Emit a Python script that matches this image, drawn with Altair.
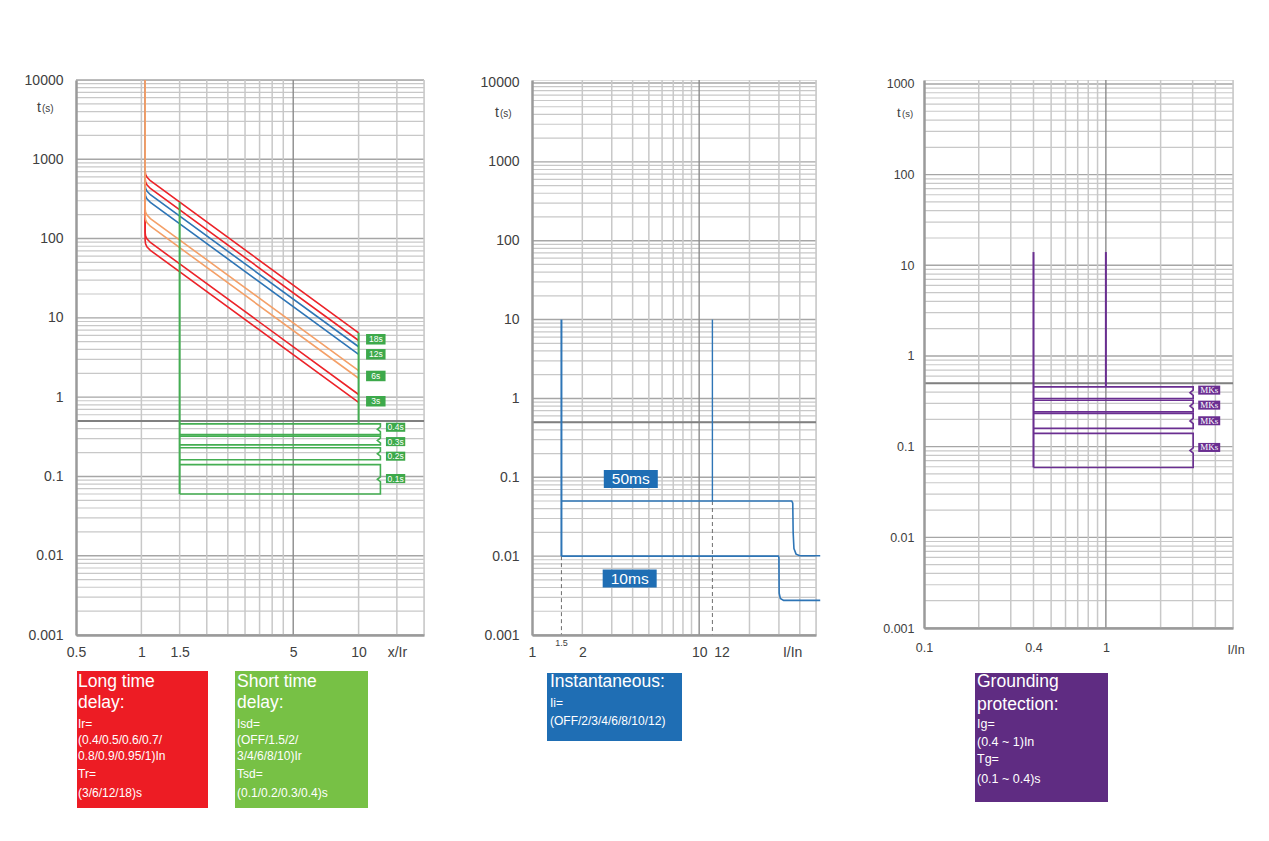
import altair as alt
import pandas as pd

FONT = "Liberation Sans"
LABEL = "#404040"
GRID = "#C8C8C8"
GRID_DEC = "#A6A6A6"
GRID_DARK = "#8C8C8C"
HALF = "#808080"
AXIS = "#9A9A9A"
RED = "#EC2329"
ORANGE = "#F4A068"
BLUE = "#2E75B6"
GREEN = "#44AE52"
GREEN_TAG = "#3DA94B"
PURPLE = "#6A2E91"
BOX_RED = "#ED1C24"
BOX_GREEN = "#77C145"
BOX_BLUE = "#1F6EB4"
BOX_PURPLE = "#5F2C82"

minor_mult = [2, 3, 4, 5, 6, 7, 8, 9]
half_line = [0.5]

# ---------------- panel 1 : long / short time delay ----------------
p1_decades = [0.001, 0.01, 0.1, 1, 10, 100, 1000, 10000]
p1_vgrid = [1, 1.5, 2, 2.5, 3, 3.5, 4, 4.5, 10, 15, 20]
p1_vgrid_dark = [5]
p1_xticks = [0.5, 1, 1.5, 5, 10, 15]

lt_names = ["18s upper", "18s lower", "3s upper", "3s lower",
            "12s upper", "12s lower", "6s upper", "6s lower"]
lt_colors = [RED, RED, RED, RED, BLUE, BLUE, ORANGE, ORANGE]
lt_I = [1.04, 1.04, 1.045, 1.06, 1.1, 10]
lt_t = [
    [10000, 726, 648, 596, 536, 6.48],
    [10000, 580, 518, 477, 428, 5.18],
    [10000, 121, 108, 99.4, 89.3, 1.08],
    [10000, 96, 86, 79, 71, 0.86],
    [10000, 484, 432, 397, 357, 4.32],
    [10000, 388, 346, 318, 286, 3.46],
    [10000, 242, 216, 199, 178.5, 2.16],
    [10000, 194, 173, 159, 143, 1.73],
]
tr_tags = ["18s", "12s", "6s", "3s"]
tr_tag_x = [12, 12, 12, 12]
tr_tag_t = [5.37, 3.47, 1.85, 0.888]

sd_vx = [1.5, 10]
sd_vtop = [288, 6.48]
sd_vbot = [0.060, 0.46]
sd_top = [0.46, 0.322, 0.23, 0.141]
sd_bot = [0.337, 0.25, 0.162, 0.060]
sd_tags = ["0.4s", "0.3s", "0.2s", "0.1s"]
sd_tag_x = [14.8, 14.8, 14.8, 14.8]
sd_tag_t = [0.417, 0.275, 0.180, 0.094]

# ---------------- panel 2 : instantaneous ----------------
p2_decades = [0.001, 0.01, 0.1, 1, 10, 100, 1000, 10000]
p2_vgrid = [2, 3, 4, 5, 6, 7, 8, 9, 20, 30, 40, 50]
p2_vgrid_dark = [10]
p2_xticks = [1, 2, 10, 13.6, 36]
inst_paths = ["50ms", "10ms"]
inst_I = [[1.5, 35.8, 36.3, 36.5, 36.9, 38.0, 40.0, 53],
          [1.5, 29.8, 30.0, 30.1, 30.6, 32.0, 53]]
inst_t = [[0.05, 0.05, 0.047, 0.02, 0.0125, 0.0106, 0.0101, 0.0101],
          [0.01, 0.01, 0.0095, 0.0034, 0.0029, 0.00275, 0.00275]]
inst_vx = [1.5, 12]
inst_vtop = [10, 10]
inst_vbot = [0.01, 0.05]
inst_dash_x = [1.5, 12]
inst_dash_top = [0.01, 0.05]
inst_dash_bot = [0.001, 0.001]
inst_tags = ["50ms", "10ms"]
inst_tag_x = [3.9, 3.84]
inst_tag_t = [0.095, 0.0052]

# ---------------- panel 3 : grounding ----------------
p3_decades = [0.001, 0.01, 0.1, 1, 10, 100, 1000]
p3_vgrid = [0.2, 0.3, 0.4, 0.5, 0.6, 0.7, 0.8, 0.9, 2, 3, 4, 5]
p3_vgrid_dark = [1]
p3_xticks = [0.1, 0.4, 1]
g_vx = [0.4, 1]
g_vtop = [14, 14]
g_vbot = [0.059, 0.456]
g_top = [0.456, 0.325, 0.232, 0.14]
g_bot = [0.34, 0.242, 0.159, 0.059]
g_tags = ["MKs", "MKs", "MKs", "MKs"]
g_tag_x = [3.7, 3.7, 3.7, 3.7]
g_tag_t = [0.42, 0.287, 0.193, 0.098]

one = pd.DataFrame({"k": [0]})


def yaxis(vals, size, pad):
    return alt.Axis(values=vals, title=None, grid=False, ticks=False, domainColor=AXIS,
                    domainWidth=2.5, labelFont=FONT, labelFontSize=size, labelColor=LABEL,
                    labelPadding=pad, labelFlush=False, labelOverlap=False,
                    labelExpr="format(datum.value, '~g')", zindex=1)


def xaxis(vals, size, pad, expr):
    return alt.Axis(values=vals, title=None, grid=False, ticks=False, domainColor=AXIS,
                    domainWidth=2.5, labelFont=FONT, labelFontSize=size, labelColor=LABEL,
                    labelPadding=pad, labelFlush=False, labelOverlap=False,
                    labelExpr=expr, zindex=1)


class Panel:
    def __init__(self, xs, ys, xax, yax):
        self.xs, self.ys, self.xax, self.yax = xs, ys, xax, yax

    def X(self, f="x"):
        return alt.X(f"{f}:Q", scale=self.xs, axis=self.xax)

    def Y(self, f="y"):
        return alt.Y(f"{f}:Q", scale=self.ys, axis=self.yax)


def grid_layers(P, decades, vgrid, vdark):
    minor = [d * m for d in decades[:-1] for m in minor_mult]
    l1 = alt.Chart(pd.DataFrame({"y": minor})).mark_rule(color=GRID, strokeWidth=1.2).encode(y=P.Y())
    l2 = alt.Chart(pd.DataFrame({"y": decades})).mark_rule(color=GRID_DEC, strokeWidth=1.4).encode(y=P.Y())
    l3 = alt.Chart(pd.DataFrame({"x": vgrid})).mark_rule(color=GRID, strokeWidth=1.5).encode(x=P.X())
    l4 = alt.Chart(pd.DataFrame({"x": vdark})).mark_rule(color=GRID_DARK, strokeWidth=1.4).encode(x=P.X())
    l5 = alt.Chart(pd.DataFrame({"y": half_line})).mark_rule(color=HALF, strokeWidth=2).encode(y=P.Y())
    return [l1, l2, l3, l4, l5]


def vrules(P, xv, top, bot, color, width, dash=None):
    kw = dict(color=color, strokeWidth=width)
    if dash:
        kw["strokeDash"] = dash
    return alt.Chart(pd.DataFrame({"x": xv, "y": top, "y2": bot})).mark_rule(**kw).encode(
        x=P.X(), y=P.Y(), y2="y2:Q")


def band_layer(P, tops, bots, x0, x1, notch, color):
    rows = []
    for b, (tp, bt) in enumerate(zip(tops, bots)):
        m = (tp * bt) ** 0.5
        pts = [(x0, tp), (x1, tp), (x1, m * 1.07), (notch, m), (x1, m / 1.07), (x1, bt), (x0, bt)]
        for i, (xv, yv) in enumerate(pts):
            rows.append({"band": b, "x": xv, "y": yv, "o": i})
    return alt.Chart(pd.DataFrame(rows)).mark_line(color=color, strokeWidth=1.6).encode(
        x=P.X(), y=P.Y(), detail="band:N", order="o:Q")


def tag_layers(P, xv, yv, texts, fill, path, size, fsize, font=FONT):
    df = pd.DataFrame({"x": xv, "y": yv, "t": texts})
    bg = alt.Chart(df).mark_point(shape=path, filled=True, size=size, color=fill, opacity=1,
                                  strokeWidth=0).encode(x=P.X(), y=P.Y())
    tx = alt.Chart(df).mark_text(color="white", fontSize=fsize, font=font, align="center",
                                 baseline="middle").encode(x=P.X(), y=P.Y(), text="t:N")
    return [bg, tx]


def txt(text, x, y, size, color="white", lh=None, align="left"):
    kw = dict(text=text, align=align, baseline="alphabetic", fontSize=size, color=color, font=FONT)
    if lh:
        kw.update(lineBreak="\n", lineHeight=lh)
    return alt.Chart(one).mark_text(**kw).encode(x=alt.value(x), y=alt.value(y))


def box(x1, x2, y1, y2, color):
    return alt.Chart(one).mark_rect(color=color, opacity=1).encode(
        x=alt.value(x1), x2=alt.value(x2), y=alt.value(y1), y2=alt.value(y2))


def ts_label(xt, y, tsize, ssize):
    return [txt("t", xt, y, tsize, color=LABEL), txt("(s)", xt + 5, y, ssize, color=LABEL)]


# ---------------- build panel 1 ----------------
P1 = Panel(alt.Scale(type="log", domain=[0.5, 20], nice=False),
           alt.Scale(type="log", domain=[0.001, 10000], nice=False),
           xaxis(p1_xticks, 14, 10, "datum.value == 15 ? 'x/Ir' : format(datum.value, '~g')"),
           yaxis(p1_decades, 14, 13))
rows = []
for name, ts in zip(lt_names, lt_t):
    for i, (xv, tv) in enumerate(zip(lt_I, ts)):
        rows.append({"curve": name, "x": xv, "y": tv, "o": i})
lt_df = pd.DataFrame(rows)

p1_layers = grid_layers(P1, p1_decades, p1_vgrid, p1_vgrid_dark)
p1_layers.append(alt.Chart(lt_df).mark_line(strokeWidth=1.6).encode(
    x=P1.X(), y=P1.Y(),
    color=alt.Color("curve:N", scale=alt.Scale(domain=lt_names, range=lt_colors), legend=None),
    detail="curve:N", order="o:Q"))
p1_layers.append(vrules(P1, sd_vx, sd_vtop, sd_vbot, GREEN, 2))
p1_layers.append(band_layer(P1, sd_top, sd_bot, 1.5, 12.6, 12.2, GREEN))
p1_layers += tag_layers(P1, tr_tag_x, tr_tag_t, tr_tags, GREEN_TAG,
                        "M-1,-0.54L1,-0.54L1,0.54L-1,0.54Z", 380, 8.5)
p1_layers += tag_layers(P1, sd_tag_x, sd_tag_t, sd_tags, GREEN_TAG,
                        "M-1,-0.47L1,-0.47L1,0.47L-1,0.47Z", 372, 8.5)
p1_layers += ts_label(-39, 32, 14, 10)
p1_layers += [
    box(1, 132, 591, 728, BOX_RED),
    txt("Long time\ndelay:", 2, 607, 17.5, lh=21),
    txt("Ir=\n(0.4/0.5/0.6/0.7/\n0.8/0.9/0.95/1)In", 2, 648, 12, lh=16),
    txt("Tr=\n(3/6/12/18)s", 2, 698, 12, lh=19),
    box(159, 292, 591, 728, BOX_GREEN),
    txt("Short time\ndelay:", 161, 607, 17.5, lh=21),
    txt("Isd=\n(OFF/1.5/2/\n3/4/6/8/10)Ir", 161, 648, 12, lh=16),
    txt("Tsd=\n(0.1/0.2/0.3/0.4)s", 161, 698, 12, lh=19),
]
p1 = alt.layer(*p1_layers).properties(width=348, height=555)

# ---------------- build panel 2 ----------------
P2 = Panel(alt.Scale(type="log", domain=[1, 50], nice=False),
           alt.Scale(type="log", domain=[0.001, 10915], nice=False),
           xaxis(p2_xticks, 14, 10,
                 "datum.value == 36 ? 'I/In' : (datum.value == 13.6 ? '12' : format(datum.value, '~g'))"),
           yaxis(p2_decades, 14, 13))
rows = []
for name, xv_list, tv_list in zip(inst_paths, inst_I, inst_t):
    for i, (xv, tv) in enumerate(zip(xv_list, tv_list)):
        rows.append({"path": name, "x": xv, "y": tv, "o": i})
inst_df = pd.DataFrame(rows)

p2_layers = grid_layers(P2, p2_decades, p2_vgrid, p2_vgrid_dark)
p2_layers.append(vrules(P2, inst_dash_x, inst_dash_top, inst_dash_bot, "#6E6E6E", 1, [4, 3]))
p2_layers.append(vrules(P2, inst_vx[:1], inst_vtop[:1], inst_vbot[:1], BLUE, 2))
p2_layers.append(vrules(P2, inst_vx[1:], inst_vtop[1:], inst_vbot[1:], BLUE, 1.4))
p2_layers.append(alt.Chart(inst_df).mark_line(color=BLUE, strokeWidth=1.6).encode(
    x=P2.X(), y=P2.Y(), detail="path:N", order="o:Q"))
p2_layers += tag_layers(P2, inst_tag_x, inst_tag_t, inst_tags, BOX_BLUE,
                        "M-1,-0.333L1,-0.333L1,0.333L-1,0.333Z", 2916, 15.5)
p2_layers.append(alt.Chart(pd.DataFrame({"x": [1.5], "t": ["1.5"]})).mark_text(
    fontSize=9, font=FONT, color=LABEL, align="center", baseline="middle").encode(
    x=P2.X(), y=alt.value(563), text="t:N"))
p2_layers += ts_label(-37, 37, 14, 10)
p2_layers += [
    box(15, 150, 593, 661, BOX_BLUE),
    txt("Instantaneous:", 18, 607, 17.5),
    txt("Ii=\n(OFF/2/3/4/6/8/10/12)", 18, 627, 12, lh=18),
]
p2 = alt.layer(*p2_layers).properties(width=284, height=555)

# ---------------- build panel 3 ----------------
P3 = Panel(alt.Scale(type="log", domain=[0.1, 5], nice=False),
           alt.Scale(type="log", domain=[0.001, 1106], nice=False),
           xaxis(p3_xticks, 12.5, 13, "format(datum.value, '~g')"),
           yaxis(p3_decades, 12.5, 10))
p3_layers = grid_layers(P3, p3_decades, p3_vgrid, p3_vgrid_dark)
p3_layers.append(vrules(P3, g_vx, g_vtop, g_vbot, PURPLE, 2))
p3_layers.append(band_layer(P3, g_top, g_bot, 0.4, 3.02, 2.9, PURPLE))
p3_layers += tag_layers(P3, g_tag_x, g_tag_t, g_tags, PURPLE,
                        "M-1,-0.41L1,-0.41L1,0.41L-1,0.41Z", 484, 9, font="Liberation Serif")
p3_layers.append(alt.Chart(pd.DataFrame({"x": [5.2], "t": ["I/In"]})).mark_text(
    fontSize=12.5, font=FONT, color=LABEL, align="center", baseline="middle").encode(
    x=P3.X(), y=alt.value(570), text="t:N"))
p3_layers += ts_label(-27, 37, 13, 9.5)
p3_layers += [
    box(51, 184, 593, 722, BOX_PURPLE),
    txt("Grounding\nprotection:", 53, 607, 17.5, lh=23),
    txt("Ig=\n(0.4 ~ 1)In", 53, 648, 12.5, lh=18),
    txt("Tg=\n(0.1 ~ 0.4)s", 53, 683, 12.5, lh=20),
]
p3 = alt.layer(*p3_layers).properties(width=309, height=548)

chart = alt.hconcat(p1, p2, p3, spacing=108, bounds="flush").properties(
    padding={"left": 15, "top": 64, "right": 5, "bottom": 5}
).configure_view(stroke=None).configure(background="white")

chart.save("out.html", embed_options={"renderer": "svg", "actions": False})
